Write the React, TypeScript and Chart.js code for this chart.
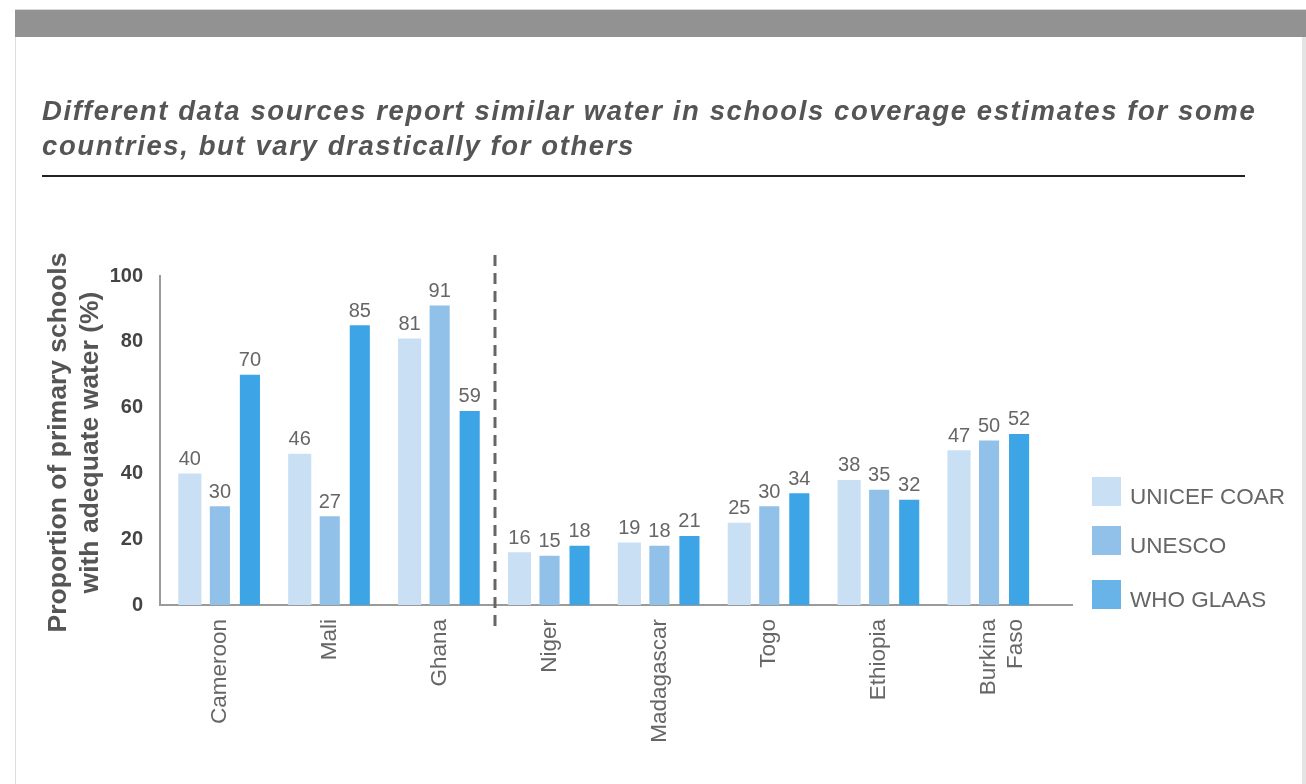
import React, { useEffect, useRef } from "react";
import { Chart, registerables } from "chart.js";

Chart.register(...registerables);

// ---- data ----
const countries: (string | string[])[] = [
  "Cameroon",
  "Mali",
  "Ghana",
  "Niger",
  "Madagascar",
  "Togo",
  "Ethiopia",
  ["Burkina", "Faso"],
];
const unicefCoar = [40, 46, 81, 16, 19, 25, 38, 47];
const unesco = [30, 27, 91, 15, 18, 30, 35, 50];
const whoGlaas = [70, 85, 59, 18, 21, 34, 32, 52];
const yTicks = [0, 20, 40, 60, 80, 100];
const seriesNames = ["UNICEF COAR", "UNESCO", "WHO GLAAS"];
const seriesColors = ["#c9dff4", "#91c1e8", "#3da5e5"];
const legendColors = ["#c9dff4", "#91c1e8", "#68b3e8"];
const dividerPosition = 2.5; // between Ghana and Niger
const titleLines = [
  "Different data sources report similar water in schools coverage estimates for some",
  "countries, but vary drastically for others",
];
const yTitleLines = ["Proportion of primary schools", "with adequate water (%)"];

const FONT = "'Liberation Sans', Arial, Helvetica, sans-serif";

const toPoints = (vals: number[]) => vals.map((v, i) => ({ x: i, y: v }));

const valueLabels = {
  id: "valueLabels",
  afterDatasetsDraw(chart: any) {
    const ctx = chart.ctx;
    ctx.save();
    ctx.font = `20px ${FONT}`;
    ctx.fillStyle = "#666666";
    ctx.textAlign = "center";
    ctx.textBaseline = "bottom";
    chart.data.datasets.forEach((ds: any, di: number) => {
      const meta = chart.getDatasetMeta(di);
      meta.data.forEach((bar: any, i: number) => {
        ctx.fillText(String(ds.data[i].y), bar.x, bar.y - 4);
      });
    });
    ctx.restore();
  },
};

const divider = {
  id: "divider",
  afterDatasetsDraw(chart: any) {
    const { ctx, scales } = chart;
    const x = Math.round(scales.x.getPixelForValue(dividerPosition));
    ctx.save();
    ctx.strokeStyle = "#666666";
    ctx.lineWidth = 3;
    ctx.setLineDash([11, 7]);
    ctx.beginPath();
    ctx.moveTo(x, scales.y.top - 21);
    ctx.lineTo(x, scales.y.bottom + 28);
    ctx.stroke();
    ctx.restore();
  },
};

const yTitle = {
  id: "yTitle",
  afterDraw(chart: any) {
    const { ctx, scales } = chart;
    const cy = (scales.y.top + scales.y.bottom) / 2 + 2;
    ctx.save();
    ctx.font = `bold 26.5px ${FONT}`;
    ctx.fillStyle = "#555555";
    ctx.textAlign = "center";
    ctx.textBaseline = "middle";
    const xs = [59, 91];
    yTitleLines.forEach((line, i) => {
      ctx.save();
      ctx.translate(xs[i], cy);
      ctx.rotate(-Math.PI / 2);
      ctx.fillText(line, 0, 0);
      ctx.restore();
    });
    ctx.restore();
  },
};

export default function App() {
  const canvasRef = useRef<HTMLCanvasElement | null>(null);

  useEffect(() => {
    if (!canvasRef.current) return;
    Chart.defaults.font.family = FONT;
    const chart = new Chart(canvasRef.current, {
      type: "bar",
      data: {
        datasets: [
          {
            label: seriesNames[0],
            data: toPoints(unicefCoar),
            backgroundColor: seriesColors[0],
            barPercentage: 0.77,
            categoryPercentage: 0.82,
          },
          {
            label: seriesNames[1],
            data: toPoints(unesco),
            backgroundColor: seriesColors[1],
            barPercentage: 0.67,
            categoryPercentage: 0.82,
          },
          {
            label: seriesNames[2],
            data: toPoints(whoGlaas),
            backgroundColor: seriesColors[2],
            barPercentage: 0.67,
            categoryPercentage: 0.82,
          },
        ] as any,
      },
      options: {
        responsive: false,
        animation: false,
        layout: { padding: { top: 276, right: 234, bottom: 0, left: 100 } },
        plugins: {
          legend: { display: false },
          tooltip: { enabled: false },
        },
        scales: {
          x: {
            type: "linear",
            offset: false,
            min: -0.545,
            max: 7.755,
            grid: { display: false, offset: false },
            border: { display: true, color: "#9a9a9a", width: 2 },
            afterBuildTicks: (scale: any) => {
              scale.ticks = countries.map((_, i) => ({ value: i }));
            },
            afterFit: (scale: any) => {
              scale.height = 179;
            },
            ticks: {
              autoSkip: false,
              minRotation: 90,
              maxRotation: 90,
              padding: 6,
              color: "#666666",
              font: { size: 22.5 },
              callback: (value: any) => countries[Math.round(Number(value))] as any,
            },
          },
          y: {
            min: 0,
            max: 100,
            grid: { display: false },
            border: { display: true, color: "#9a9a9a", width: 2 },
            afterBuildTicks: (scale: any) => {
              scale.ticks = yTicks.map((v) => ({ value: v }));
            },
            afterFit: (scale: any) => {
              scale.width = 60;
            },
            ticks: {
              padding: 9,
              color: "#444444",
              font: { size: 20, weight: "bold" },
            },
          },
        },
      } as any,
      plugins: [valueLabels, divider, yTitle],
    });
    return () => chart.destroy();
  }, []);

  return (
    <div
      style={{
        position: "fixed",
        left: 0,
        top: 0,
        width: 1306,
        height: 784,
        background: "#ffffff",
        overflow: "hidden",
        fontFamily: FONT,
      }}
    >
      <div style={{ position: "absolute", left: 15, top: 9, width: 1291, height: 1, background: "#d8d8d8" }} />
      <div style={{ position: "absolute", left: 15, top: 10, width: 1291, height: 27, background: "#929292" }} />
      <div style={{ position: "absolute", left: 15, top: 37, width: 1, height: 747, background: "#dcdcdc" }} />
      <div style={{ position: "absolute", left: 1302, top: 37, width: 4, height: 747, background: "#e4e4e4" }} />
      <canvas
        ref={canvasRef}
        width={1306}
        height={784}
        style={{ position: "absolute", left: 0, top: 0, width: 1306, height: 784 }}
      />
      <div
        style={{
          position: "absolute",
          left: 42,
          top: 93,
          fontSize: 27.5,
          letterSpacing: "1.6px",
          lineHeight: "35px",
          fontWeight: "bold",
          fontStyle: "italic",
          color: "#555555",
          whiteSpace: "nowrap",
        }}
      >
        {titleLines.map((l, i) => (
          <div key={i}>{l}</div>
        ))}
      </div>
      <div style={{ position: "absolute", left: 42, top: 175, width: 1203, height: 2, background: "#222222" }} />
      {seriesNames.map((name, i) => (
        <div key={name}>
          <div
            style={{
              position: "absolute",
              left: 1092,
              top: [477, 526, 580][i],
              width: 29,
              height: 29,
              background: legendColors[i],
            }}
          />
          <div
            style={{
              position: "absolute",
              left: 1130,
              top: [477, 526, 580][i] + 5,
              fontSize: 22.5,
              lineHeight: "29px",
              color: "#666666",
              whiteSpace: "nowrap",
            }}
          >
            {name}
          </div>
        </div>
      ))}
    </div>
  );
}
